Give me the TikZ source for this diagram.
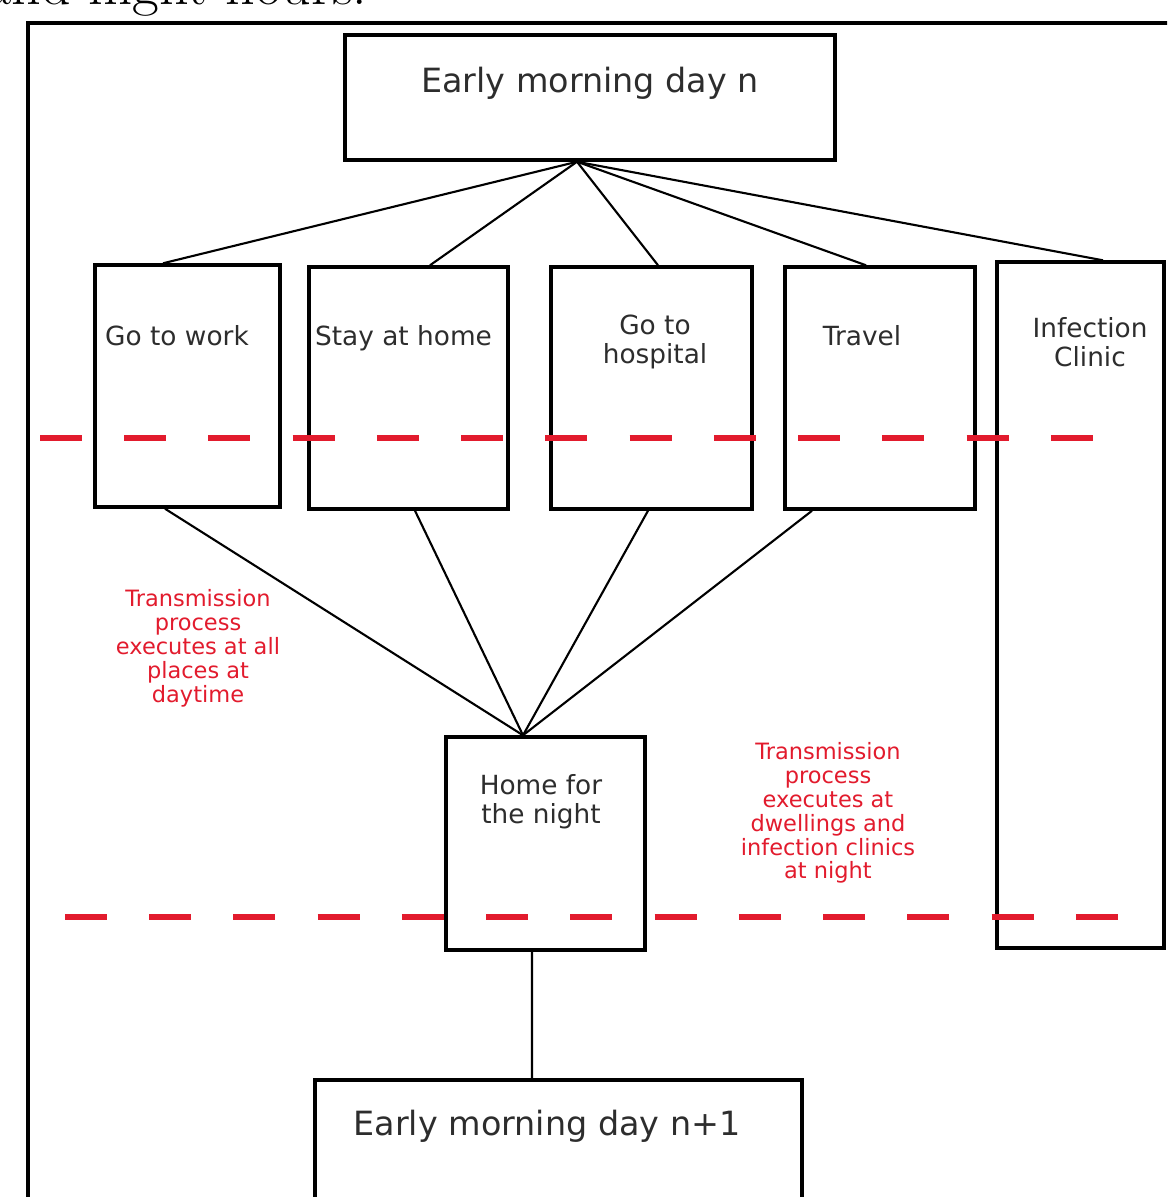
\documentclass[tikz,border=0pt]{standalone}
\usepackage{fontspec}
\newfontfamily\diagfont{DejaVu Sans}
\usepackage{tikz}
\definecolor{transred}{RGB}{226, 27, 45}
\definecolor{boxtext}{RGB}{45, 45, 45}

\begin{document}
\begin{tikzpicture}[
				x=0.02cm, y=-0.02cm,
				stagebox/.style={rectangle, draw=black, line width=2pt, inner sep=0pt},
				stagelbl/.style={font=\diagfont\fontsize{15}{16.5}\selectfont, text=boxtext, align=center, inner sep=0pt},
				daylbl/.style={font=\diagfont\fontsize{19}{22}\selectfont, text=boxtext, inner sep=0pt},
				notelbl/.style={font=\diagfont\fontsize{12.8}{13.6}\selectfont, text=transred, align=center, inner sep=0pt},
				link/.style={draw=black, line width=1.2pt},
				splitline/.style={draw=transred, line width=3.4pt, dash pattern=on 0.84cm off 0.845cm}
				]
				\useasboundingbox (0,0) rectangle (1167,1197);
				\clip (0,0) rectangle (1167,1197);
				
				% Caption line, cut off at the top
				\node[font=\fontsize{33}{36}\selectfont, anchor=base west, inner sep=0pt] (caption) at (-15,4) {and night hours:};
				\draw[line width=1.8pt] (1180,23) -- (28,23) -- (28,1210);
				
				% Start of the day
				\node[stagebox, minimum width=9.8cm, minimum height=2.5cm] (morning) at (590,97.5) {};
				\node[daylbl, anchor=base] (morninglbl) at (590,92) {Early morning day n};
				
				% Daytime places
				\node[stagebox, minimum width=3.7cm, minimum height=4.84cm] (work) at (187.5,386) {};
				\node[stagebox, minimum width=3.98cm, minimum height=4.84cm] (stayhome) at (408.5,388) {};
				\node[stagebox, minimum width=4.02cm, minimum height=4.84cm] (hospital) at (651.5,388) {};
				\node[stagebox, minimum width=3.8cm, minimum height=4.84cm] (travel) at (880,388) {};
				\node[stagebox, minimum width=3.34cm, minimum height=13.72cm] (clinic) at (1080.5,605) {};
				\node[stagelbl, anchor=base] (worklbl) at (177,345) {Go to work};
				\node[stagelbl, anchor=base] (stayhomelbl) at (403.5,345) {Stay at home};
				\node[stagelbl] (hospitallbl) at (655,342) {Go to\\hospital};
				\node[stagelbl, anchor=base] (travellbl) at (862,345) {Travel};
				\node[stagelbl] (cliniclbl) at (1090,342) {Infection\\Clinic};
				
				% Night and next day
				\node[stagebox, minimum width=3.98cm, minimum height=4.26cm] (homenight) at (545.5,843.5) {};
				\node[stagelbl] (homenightlbl) at (541,802) {Home for\\the night};
				\node[stagebox, minimum width=9.74cm, minimum height=2.5cm] (nextday) at (558.5,1142.5) {};
				\node[daylbl, anchor=base] (nextdaylbl) at (547,1135) {Early morning day n+1};
				
				% Transmission notes
				\node[notelbl] (daynote) at (198,648) {Transmission\\process\\executes at all\\places at\\daytime};
				\node[notelbl] (nightnote) at (828,813) {Transmission\\process\\executes at\\dwellings and\\infection clinics\\at night};
				
				% Fan out in the morning
				\coordinate (dawn) at ([xshift=-0.26cm]morning.south);
				\draw[link] (dawn) -- ([xshift=-0.49cm]work.north);
				\draw[link] (dawn) -- ([xshift=0.43cm]stayhome.north);
				\draw[link] (dawn) -- ([xshift=0.13cm]hospital.north);
				\draw[link] (dawn) -- ([xshift=-0.28cm]travel.north);
				\draw[link] (dawn) -- ([xshift=0.45cm]clinic.north);
				
				% Back home in the evening
				\coordinate (dusk) at ([xshift=-0.45cm]homenight.north);
				\draw[link] ([xshift=-0.45cm]work.south) -- (dusk);
				\draw[link] ([xshift=0.13cm]stayhome.south) -- (dusk);
				\draw[link] ([xshift=-0.07cm]hospital.south) -- (dusk);
				\draw[link] ([xshift=-1.36cm]travel.south) -- (dusk);
				\draw[link] ([xshift=-0.27cm]homenight.south) -- ([xshift=-0.53cm]nextday.north);
				
				% Day / night boundaries
				\draw[splitline] (40,438) -- (1094,438);
				\draw[splitline] (65,917) -- (1119,917);
			\end{tikzpicture}
\end{document}
